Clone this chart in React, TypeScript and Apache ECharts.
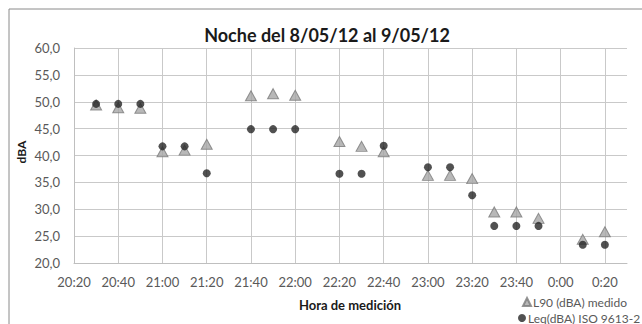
import React, { useEffect, useRef } from "react";
import * as echarts from "echarts";

const times = ["20:30", "20:40", "20:50", "21:00", "21:10", "21:20", "21:40", "21:50", "22:00", "22:20", "22:30", "22:40", "23:00", "23:10", "23:20", "23:30", "23:40", "23:50", "0:10", "0:20"];
const l90 = [49.4, 48.9, 48.8, 40.7, 41.0, 42.1, 51.1, 51.5, 51.2, 42.6, 41.7, 40.7, 36.3, 36.3, 35.7, 29.5, 29.5, 28.3, 24.4, 25.8];
const leq = [49.6, 49.6, 49.6, 41.7, 41.7, 36.7, 44.9, 44.9, 44.9, 36.6, 36.6, 41.8, 37.8, 37.8, 32.6, 26.9, 26.9, 26.9, 23.4, 23.4];
const xMin = "20:20";
const xMax = "0:30";
const xStep = 20;
const yMin = 20;
const yMax = 60;
const yStep = 5;
const titleText = "Noche del 8/05/12 al 9/05/12";
const xTitle = "Hora de medición";
const yTitle = "dBA";
const l90Name = "L90 (dBA) medido";
const leqName = "Leq(dBA) ISO 9613-2";

const toMin = (t: string) => {
  const [h, m] = t.split(":").map(Number);
  return (h < 12 ? h + 24 : h) * 60 + m;
};
const fmtTime = (v: number) => {
  const h = Math.floor(v / 60) % 24;
  const m = Math.round(v % 60);
  return `${h}:${m < 10 ? "0" + m : m}`;
};

const FONT = "Lato, 'Open Sans', sans-serif";

export default function App() {
  const ref = useRef<HTMLDivElement>(null);
  useEffect(() => {
    if (!ref.current) return;
    const chart = echarts.init(ref.current, undefined, { renderer: "svg" });
    const x0 = toMin(xMin);
    const x1 = toMin(xMax);
    const nLines = Math.floor((x1 - x0) / xStep) + 2;
    const vColors: string[] = [];
    for (let i = 0; i < nLines; i++) vColors.push(i === nLines - 1 ? "rgba(0,0,0,0)" : "#c9c9c9");
    chart.setOption({
      animation: false,
      backgroundColor: "#ffffff",
      textStyle: { fontFamily: FONT },
      grid: { left: 74, right: 15, top: 48, bottom: 61 },
      graphic: [
        { type: "rect", shape: { x: 9, y: 9, width: 800, height: 500 }, style: { fill: "none", stroke: "#8a8a8a", lineWidth: 1 }, silent: true },
        { type: "text", x: 327, y: 35, style: { text: titleText, fontFamily: FONT, fontSize: 18, fontWeight: "bold", fill: "#1a1a1a", align: "center", verticalAlign: "middle" } },
        { type: "text", x: 21, y: 152, rotation: Math.PI / 2, style: { text: yTitle, fontFamily: FONT, fontSize: 12, fontWeight: "bold", fill: "#1a1a1a", align: "center", verticalAlign: "middle" } },
        { type: "text", x: 350, y: 305, style: { text: xTitle, fontFamily: FONT, fontSize: 13, fontWeight: "bold", fill: "#1a1a1a", align: "center", verticalAlign: "middle" } },
      ],
      legend: [
        {
          data: [l90Name], left: 517, top: 291, itemWidth: 8, itemHeight: 8, itemGap: 3,
          textStyle: { fontFamily: FONT, fontSize: 12, color: "#595959", padding: [0, 0, 0, -3] },
        },
        {
          data: [leqName], left: 513, top: 307, itemWidth: 8, itemHeight: 8, itemGap: 3,
          textStyle: { fontFamily: FONT, fontSize: 12, color: "#595959", padding: [0, 0, 0, -3] },
        },
      ],
      xAxis: {
        type: "value",
        min: x0,
        max: x1,
        interval: xStep,
        axisLine: { show: true, lineStyle: { color: "#bfbfbf" } },
        axisTick: { show: false },
        axisLabel: { formatter: (v: number) => fmtTime(v), showMaxLabel: false, margin: 12, fontFamily: FONT, fontSize: 13, color: "#595959" },
        splitLine: { show: true, lineStyle: { color: vColors, width: 1 } },
      },
      yAxis: {
        type: "value",
        min: yMin,
        max: yMax,
        interval: yStep,
        axisLine: { show: true, lineStyle: { color: "#bfbfbf" } },
        axisTick: { show: false },
        axisLabel: { formatter: (v: number) => v.toFixed(1).replace(".", ","), margin: 14, fontFamily: FONT, fontSize: 13, color: "#595959" },
        splitLine: { show: true, lineStyle: { color: "#c9c9c9", width: 1 } },
      },
      series: [
        {
          name: l90Name,
          type: "scatter",
          symbol: "triangle",
          symbolSize: [11, 10],
          itemStyle: { color: "#a6a6a6", borderColor: "#7a7a7a", borderWidth: 1 },
          data: times.map((t, i) => [toMin(t), l90[i]]),
        },
        {
          name: leqName,
          type: "scatter",
          symbol: "circle",
          symbolSize: 8,
          itemStyle: { color: "#262626" },
          data: times.map((t, i) => [toMin(t), leq[i]]),
        },
      ],
    });
    return () => chart.dispose();
  }, []);
  return <div ref={ref} style={{ position: "absolute", left: 0, top: 0, width: 642, height: 324 }} />;
}
